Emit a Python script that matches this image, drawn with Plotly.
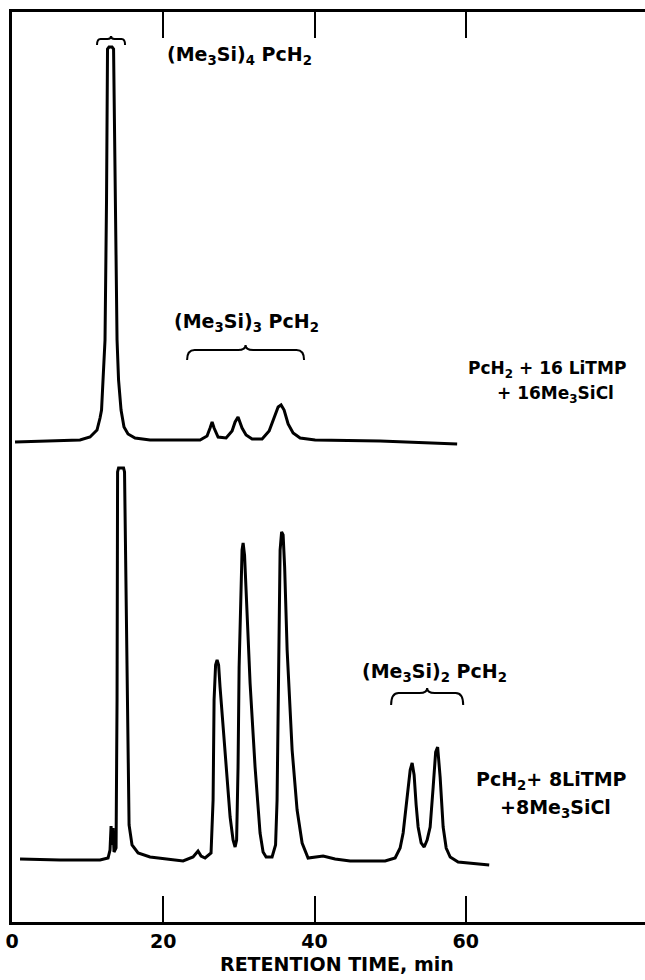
import plotly.graph_objects as go

# ---------------- data ----------------
# upper run: PcH2 + 16 LiTMP + 16 Me3SiCl  (detector response, arbitrary units above its baseline)
upper_time = [0.40, 5.03, 8.99, 10.32, 11.24, 11.64, 11.84, 11.97, 12.10, 12.30, 12.50, 12.63,
              12.83, 13.23, 13.43, 13.62, 13.89, 14.09, 14.42, 14.81, 15.34, 16.27, 18.25,
              24.87, 25.79, 26.19, 26.46, 26.72, 27.25, 28.31, 29.10, 29.50, 29.89, 30.42,
              30.95, 31.75, 33.07, 34.00, 34.66, 35.19, 35.58, 35.98, 36.51, 37.17, 38.10,
              40.08, 48.68, 58.86]
upper_signal = [-1, 0, 1, 4, 11, 23, 31, 51, 69, 101, 241, 392,
                394, 394, 392, 241, 101, 61, 31, 14, 7, 3, 1,
                1, 5, 13, 19, 13, 4, 3, 10, 19, 24, 13,
                6, 2, 2, 10, 23, 34, 36, 31, 17, 8, 3,
                1, 0, -3]

# lower run: PcH2 + 8 LiTMP + 8 Me3SiCl
lower_time = [1.06, 6.35, 11.64, 12.70, 12.96, 13.10, 13.23, 13.36, 13.49, 13.76, 13.89, 13.96,
              14.09, 14.75, 14.88, 15.08, 15.28, 15.48, 15.87, 16.67, 18.25, 22.62, 23.94,
              24.60, 25.00, 25.53, 26.32, 26.59, 26.72, 26.92, 27.12, 27.32, 27.51, 28.17,
              28.84, 29.23, 29.50, 29.70, 29.89, 30.03, 30.29, 30.42, 30.56, 30.75, 30.95,
              31.48, 32.14, 32.80, 33.20, 33.60, 34.39, 34.85, 35.05, 35.19, 35.32, 35.45,
              35.65, 35.85, 36.05, 36.38, 37.04, 37.70, 38.36, 39.15, 41.14, 42.72, 44.71,
              49.34, 50.66, 51.32, 51.72, 52.25, 52.65, 52.91, 53.17, 53.44, 53.70, 54.10,
              54.50, 54.89, 55.29, 55.69, 56.02, 56.28, 56.61, 57.01, 57.41, 57.94, 58.99,
              63.10]
lower_signal = [1, 0, 0, 2, 10, 34, 15, 32, 8, 12, 160, 388,
                392, 392, 388, 260, 100, 35, 15, 7, 3, -1, 3,
                9, 4, 2, 7, 60, 160, 195, 200, 195, 173, 107,
                43, 20, 13, 20, 93, 193, 277, 310, 317, 305, 270,
                177, 93, 27, 8, 3, 3, 15, 60, 160, 260, 310,
                328, 325, 293, 210, 110, 50, 17, 2, 4, 1, -1,
                -1, 2, 12, 27, 60, 90, 97, 85, 55, 33, 17,
                13, 20, 33, 73, 108, 113, 83, 33, 12, 3, -2,
                -5]

x_ticks = [0, 20, 40, 60]
x_tick_labels = ["0", "20", "40", "60"]
x_title = "RETENTION TIME, min"

compound_labels = ["(Me<sub>3</sub>Si)<sub>4</sub> PcH<sub>2</sub>",
                   "(Me<sub>3</sub>Si)<sub>3</sub> PcH<sub>2</sub>",
                   "(Me<sub>3</sub>Si)<sub>2</sub> PcH<sub>2</sub>"]
brace_start = [11.24, 23.15, 50.13]   # min
brace_end = [14.95, 38.62, 59.66]     # min
condition_lines = ["PcH<sub>2</sub> + 16 LiTMP", "+ 16Me<sub>3</sub>SiCl",
                   "PcH<sub>2</sub>+ 8LiTMP", "+8Me<sub>3</sub>SiCl"]

# ---------------- layout constants ----------------
UPPER_OFFSET = 481
LOWER_OFFSET = 62
FONT = "DejaVu Sans"
X_MAX = 83.7
Y_MAX = 910

fig = go.Figure()
fig.add_trace(go.Scatter(x=upper_time, y=[v + UPPER_OFFSET for v in upper_signal],
                         mode="lines", line=dict(color="black", width=3), hoverinfo="skip"))
fig.add_trace(go.Scatter(x=lower_time, y=[v + LOWER_OFFSET for v in lower_signal],
                         mode="lines", line=dict(color="black", width=3), hoverinfo="skip"))

# braces
brace_y = [(877, 883, 886), (562, 572, 577), (217, 229, 234)]  # (end, flat, tip)
for t0, t1, (ye, yf, yt) in zip(brace_start, brace_end, brace_y):
    tm = (t0 + t1) / 2
    w = min(1.0, (t1 - t0) / 8)
    path = (f"M {t0},{ye} Q {t0},{yf} {t0 + w},{yf} L {tm - w},{yf} "
            f"Q {tm},{yf} {tm},{yt} Q {tm},{yf} {tm + w},{yf} L {t1 - w},{yf} "
            f"Q {t1},{yf} {t1},{ye}")
    fig.add_shape(type="path", path=path, xref="x", yref="y",
                  line=dict(color="black", width=2))

label_pos = [(20.2, 867), (21.2, 600), (46.0, 250)]
for txt, (lx, ly) in zip(compound_labels, label_pos):
    fig.add_annotation(x=lx, y=ly, text=f"<b>{txt}</b>", xref="x", yref="y", xanchor="left",
                       yanchor="middle", showarrow=False,
                       font=dict(family=FONT, size=19, color="black"))

cond_pos = [(70.8, 553), (71.8, 528), (71.3, 142), (71.9, 114)]
cond_size = [17, 17, 19, 19]
for txt, (lx, ly), fs in zip(condition_lines, cond_pos, cond_size):
    fig.add_annotation(x=lx, y=ly, text=f"<b>{txt}</b>", xref="x", yref="y", xanchor="center",
                       yanchor="middle", showarrow=False,
                       font=dict(family=FONT, size=fs, color="black"))

fig.add_annotation(x=43.0, y=-0.046, xref="x", yref="paper", text=f"<b>{x_title}</b>",
                   showarrow=False, xanchor="center", yanchor="middle",
                   font=dict(family=FONT, size=19, color="black"))

fig.update_layout(
    width=645, height=980,
    margin=dict(l=12, r=0, t=12, b=58),
    paper_bgcolor="white", plot_bgcolor="white",
    showlegend=False,
    font=dict(family=FONT, color="black"),
    xaxis=dict(range=[0, X_MAX], showline=True, linecolor="black", linewidth=2.5,
               mirror="ticks",
               ticks="inside", ticklen=26, tickwidth=2, tickcolor="black",
               tickvals=x_ticks, ticktext=[f"<b>{t}</b>" for t in x_tick_labels],
               tickfont=dict(family=FONT, size=19, color="black"),
               showgrid=False, zeroline=False),
    yaxis=dict(range=[0, Y_MAX], showline=True, linecolor="black", linewidth=2.5,
               mirror=False,
               ticks="", showticklabels=False, showgrid=False, zeroline=False),
)

fig.write_html("out.html")
